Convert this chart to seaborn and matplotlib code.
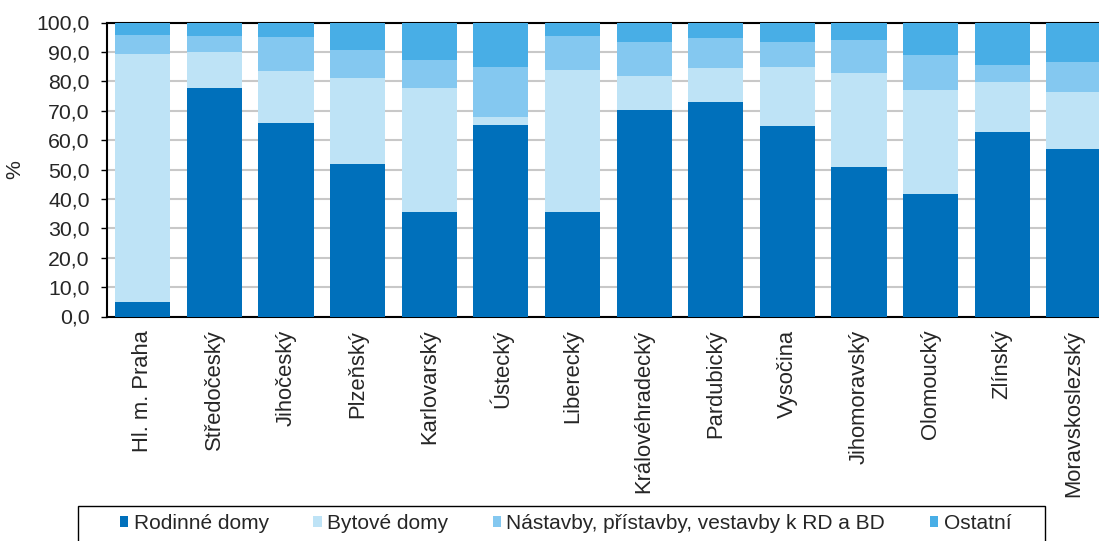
import matplotlib

matplotlib.use("Agg")

import matplotlib.pyplot as plt
import numpy as np
import pandas as pd
import seaborn as sns
from matplotlib.patches import Patch, Rectangle

regions = [
    "Hl. m. Praha", "Středočeský", "Jihočeský", "Plzeňský", "Karlovarský",
    "Ústecký", "Liberecký", "Královéhradecký", "Pardubický", "Vysočina",
    "Jihomoravský", "Olomoucký", "Zlínský", "Moravskoslezský",
]
rodinne_domy = [5.1, 77.8, 65.9, 51.8, 35.5, 65.0, 35.4, 70.3, 72.8, 64.9, 50.9, 41.8, 62.9, 57.0]
bytove_domy = [84.1, 12.2, 17.7, 29.4, 42.3, 2.9, 48.6, 11.6, 11.8, 20.0, 32.0, 35.4, 17.0, 19.5]
nastavby = [6.6, 5.5, 11.5, 9.3, 9.5, 16.9, 11.5, 11.5, 10.2, 8.6, 11.0, 11.9, 5.8, 9.9]
ostatni = [4.2, 4.5, 4.9, 9.5, 12.7, 15.2, 4.5, 6.6, 5.2, 6.5, 6.1, 10.9, 14.3, 13.6]

series_names = ["Rodinné domy", "Bytové domy", "Nástavby, přístavby, vestavby k RD a BD", "Ostatní"]
series_colors = ["#0070BB", "#BEE3F6", "#84C8F0", "#48AEE6"]
y_ticks = [0, 10, 20, 30, 40, 50, 60, 70, 80, 90, 100]

sns.set_style("white")
plt.rcParams["font.family"] = ["Liberation Sans", "DejaVu Sans"]
plt.rcParams["font.size"] = 15.3

df = pd.DataFrame(
    {
        "region": regions,
        series_names[0]: rodinne_domy,
        series_names[1]: bytove_domy,
        series_names[2]: nastavby,
        series_names[3]: ostatni,
    }
)
stacked = df[series_names].cumsum(axis=1)
stacked["region"] = df["region"]

W, H = 1099, 541
fig = plt.figure(figsize=(W / 100, H / 100), dpi=100)
ax = fig.add_axes([107 / W, 224.5 / H, 1002.6 / W, 294 / H])

# draw the stack from the top layer down so each layer covers the one below
for name, color in reversed(list(zip(series_names, series_colors))):
    sns.barplot(
        data=stacked, x="region", y=name, color=color, width=0.77,
        saturation=1, linewidth=0, ax=ax, zorder=3,
    )

ax.set_xlim(-0.5, len(regions) - 0.5)
ax.set_ylim(0, 100)
ax.set_yticks(y_ticks)
ax.set_yticklabels([f"{v:.1f}".replace(".", ",") for v in y_ticks])
ax.yaxis.grid(True, color="#C8C8C8", linewidth=1.5, zorder=0)
ax.set_axisbelow(True)

ax.set_xticks(range(len(regions)))
ax.set_xticklabels(regions, rotation=90, va="top", ha="center", fontsize=15.8)
ax.set_xticks(np.arange(-0.5, len(regions), 1.0), minor=True)
ax.tick_params(axis="x", which="major", length=0, pad=9.5)
ax.tick_params(axis="x", which="minor", length=4.5, width=1, color="black", direction="out")
ax.tick_params(axis="y", length=4.5, width=1, color="black", direction="out", pad=8, left=True)

ax.set_xlabel("")
ax.set_ylabel("%", labelpad=9)

for side in ["left", "bottom", "top"]:
    ax.spines[side].set_visible(True)
    ax.spines[side].set_color("black")
    ax.spines[side].set_linewidth(1.5)
ax.spines["right"].set_visible(False)

# legend box runs off the bottom edge, as in the source image
fig.patches.append(
    Rectangle((78 / W, -10 / H), 967 / W, (35 + 10) / H, transform=fig.transFigure,
              fill=False, edgecolor="black", linewidth=1)
)
handles = [Patch(facecolor=c, edgecolor="none") for c in series_colors]
fig.legend(
    handles, series_names, ncol=4, loc="upper left",
    bbox_to_anchor=(120 / W, 1 - 514 / H), borderaxespad=0, borderpad=0,
    frameon=False, handlelength=0.4, handleheight=0.4, handletextpad=0.25,
    columnspacing=2.15, fontsize=15,
)

plt.savefig("out.png", dpi=100)
plt.close()
